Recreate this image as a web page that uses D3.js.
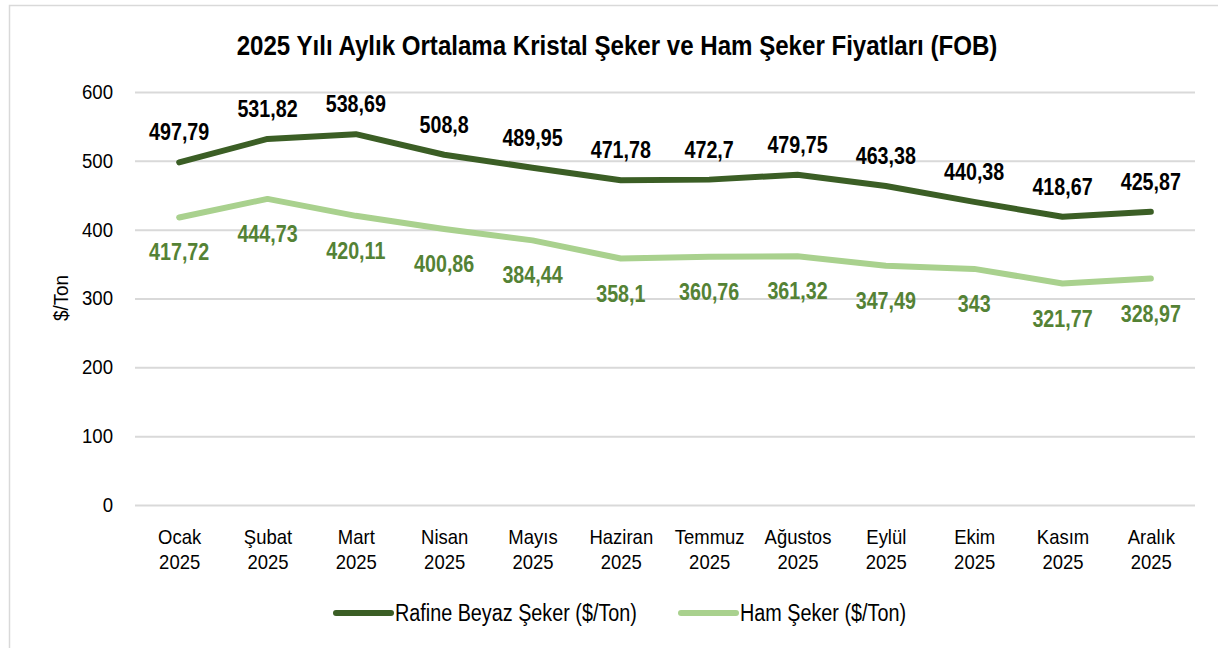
<!DOCTYPE html>
<html>
<head>
<meta charset="utf-8">
<script src="https://cdn.jsdelivr.net/npm/d3@7"></script>
<style>
  body { margin: 0; background: #fff; }
  svg { display: block; font-family: "Liberation Sans", Arial, sans-serif; }
</style>
</head>
<body>
<div id="chart"></div>
<script>
// months (two-line tick labels)
const months = ["Ocak", "Şubat", "Mart", "Nisan", "Mayıs", "Haziran", "Temmuz", "Ağustos", "Eylül", "Ekim", "Kasım", "Aralık"];
const year = "2025";
const refined = [497.79, 531.82, 538.69, 508.8, 489.95, 471.78, 472.7, 479.75, 463.38, 440.38, 418.67, 425.87];
const raw = [417.72, 444.73, 420.11, 400.86, 384.44, 358.1, 360.76, 361.32, 347.49, 343, 321.77, 328.97];
const yTicks = [0, 100, 200, 300, 400, 500, 600];
const seriesNames = ["Rafine Beyaz Şeker ($/Ton)", "Ham Şeker ($/Ton)"];

const W = 1218, H = 648;
const margin = {top: 92, right: 23, bottom: 143, left: 135};

// no narrow font installed -> squeeze glyphs horizontally
function narrow(sel, k) {
    sel.each(function() {
        const w = this.getComputedTextLength();
        d3.select(this).attr("textLength", w * k).attr("lengthAdjust", "spacingAndGlyphs");
    });
}

const svg = d3.select("#chart").append("svg")
    .attr("width", W)
    .attr("height", H);

// chart border
svg.append("rect")
    .attr("x", 9.5).attr("y", 5.5)
    .attr("width", W + 20).attr("height", H + 20)
    .attr("fill", "none")
    .attr("stroke", "#d9d9d9")
    .attr("stroke-width", 1.5);

svg.append("text")
    .attr("x", 617).attr("y", 55)
    .attr("text-anchor", "middle")
    .attr("font-size", 28)
    .attr("font-weight", "bold")
    .attr("fill", "#000")
    .text("2025 Yılı Aylık Ortalama Kristal Şeker ve Ham Şeker Fiyatları (FOB)")
    .call(narrow, 0.86);

const x = d3.scalePoint()
    .domain(months)
    .range([margin.left, W - margin.right])
    .padding(0.5);

const y = d3.scaleLinear()
    .domain([0, 600])
    .range([H - margin.bottom, margin.top]);

// gridlines + y labels
const yAxis = svg.append("g")
    .attr("transform", `translate(${margin.left},0)`)
    .call(d3.axisLeft(y).tickValues(yTicks).tickSize(-(W - margin.left - margin.right)).tickPadding(22))
    .call(g => g.select(".domain").remove());
yAxis.selectAll(".tick line").attr("stroke", "#d9d9d9").attr("stroke-width", 2);
yAxis.selectAll(".tick text")
    .attr("font-size", 20)
    .attr("fill", "#000")
    .attr("font-family", "inherit")
    .call(narrow, 0.93);

// x labels
const xAxis = svg.append("g")
    .attr("transform", `translate(0,${H - margin.bottom})`)
    .call(d3.axisBottom(x).tickSize(0).tickFormat(""))
    .call(g => g.select(".domain").remove());
xAxis.selectAll(".tick").each(function(d) {
    const tk = d3.select(this);
    [d, year].forEach((s, j) => {
        tk.append("text")
            .attr("x", 0).attr("y", 39 + j * 25)
            .attr("text-anchor", "middle")
            .attr("font-size", 21)
            .attr("fill", "#000")
            .text(s)
            .call(narrow, 0.88);
    });
});

svg.append("text")
    .attr("transform", "translate(68,298) rotate(-90)")
    .attr("text-anchor", "middle")
    .attr("font-size", 21)
    .attr("fill", "#000")
    .text("$/Ton")
    .call(narrow, 0.9);

const line = d3.line()
    .x((d, i) => x(months[i]))
    .y(d => y(d));

const dark = "#3b5e25", light = "#a9d18e", labelGreen = "#548235";

svg.append("path").datum(raw)
    .attr("d", line)
    .attr("fill", "none")
    .attr("stroke", light)
    .attr("stroke-width", 6)
    .attr("stroke-linecap", "round")
    .attr("stroke-linejoin", "round");

svg.append("path").datum(refined)
    .attr("d", line)
    .attr("fill", "none")
    .attr("stroke", dark)
    .attr("stroke-width", 6)
    .attr("stroke-linecap", "round")
    .attr("stroke-linejoin", "round");

const fmt = v => String(v).replace(".", ",");

svg.append("g").selectAll("text")
    .data(refined)
    .join("text")
    .attr("x", (d, i) => x(months[i]))
    .attr("y", d => y(d) - 22)
    .attr("text-anchor", "middle")
    .attr("font-size", 24)
    .attr("font-weight", "bold")
    .attr("fill", "#000")
    .text(fmt)
    .call(narrow, 0.82);

svg.append("g").selectAll("text")
    .data(raw)
    .join("text")
    .attr("x", (d, i) => x(months[i]))
    .attr("y", d => y(d) + 43)
    .attr("text-anchor", "middle")
    .attr("font-size", 24)
    .attr("font-weight", "bold")
    .attr("fill", labelGreen)
    .text(fmt)
    .call(narrow, 0.82);

// legend
const legend = svg.append("g").attr("transform", "translate(0,613)");
const items = [
    {name: seriesNames[0], color: dark, x: 336},
    {name: seriesNames[1], color: light, x: 681}
];
items.forEach(it => {
    legend.append("line")
        .attr("x1", it.x).attr("x2", it.x + 55)
        .attr("y1", 0).attr("y2", 0)
        .attr("stroke", it.color)
        .attr("stroke-width", 6)
        .attr("stroke-linecap", "round");
    legend.append("text")
        .attr("x", it.x + 59).attr("y", 8)
        .attr("font-size", 23)
        .attr("fill", "#000")
        .text(it.name)
        .call(narrow, 0.86);
});
</script>
</body>
</html>
